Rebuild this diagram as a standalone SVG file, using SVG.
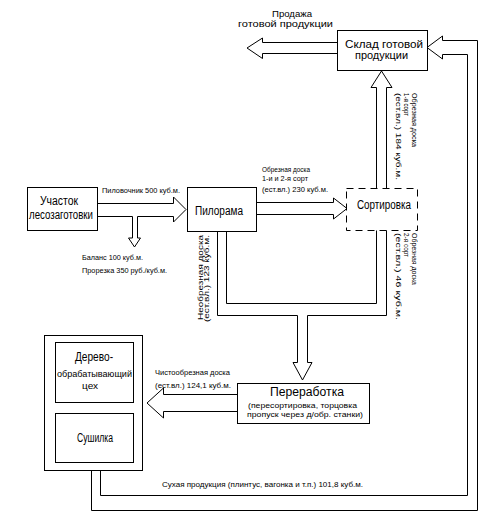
<svg xmlns="http://www.w3.org/2000/svg" width="490" height="522" viewBox="0 0 490 522">
<style>
.box{fill:#fff;stroke:#000;stroke-width:1}
.dash{fill:#fff;stroke:#000;stroke-width:1;stroke-dasharray:7 5}
.arr{fill:none;stroke:#000;stroke-width:1;stroke-linejoin:miter}
text{font-family:"Liberation Sans Narrow","Liberation Sans","DejaVu Sans Condensed",sans-serif;fill:#000}
.m{font-size:12px}
.k{font-size:10px}
.s{font-size:8px}
.t{font-size:9.5px}
.v{font-size:7px}
</style>
<rect width="490" height="522" fill="#fff"/>
<g id="connectors">
<path class="arr" d="M97,203.5 H173.5 V197 L186,209.5 L173.5,222 V216.5 H137.5 V238 H140.5 L134.5,247 L128.5,238 H132.5 V216.5 H97"/>
<path class="arr" d="M256,202.5 H333.5 V198 L347,208.5 L333.5,219 V214.5 H256"/>
<path class="arr" d="M376.5,188 V87.5 H371 L381.5,71 L392,87.5 H386.5 V188"/>
<path class="arr" d="M337,42.5 H262.5 V38 L247,48 L262.5,58.5 V53.5 H337"/>
<path class="arr" d="M91.5,470 V510.5 H477.5 V40.5 H442.5 V36 L427,47.5 L442.5,59 V54.5 H467.5 V495.5 H100.5 V470"/>
<path class="arr" d="M217.5,232 V315.5 H297.5 V362.5 H293 L302.5,380 L312,362.5 H307.5 V315.5 H386.5 V230 M226.5,232 V303.5 H376.5 V230"/>
<path class="arr" d="M238,394.5 H163.5 V388 L147,403 L163.5,418 V411.5 H238"/>
</g>
<g id="labels">
<text class="t" x="272" y="17" textLength="40" lengthAdjust="spacingAndGlyphs">Продажа</text>
<text class="t" x="238" y="27" textLength="95" lengthAdjust="spacingAndGlyphs">готовой продукции</text>
<text class="s" x="102" y="193" textLength="78" lengthAdjust="spacingAndGlyphs">Пиловочник 500 куб.м.</text>
<text class="s" x="82" y="260" textLength="61" lengthAdjust="spacingAndGlyphs">Баланс 100 куб.м.</text>
<text class="s" x="82" y="273" textLength="85" lengthAdjust="spacingAndGlyphs">Прорезка 350 руб./куб.м.</text>
<text class="s" x="262" y="172" textLength="48" lengthAdjust="spacingAndGlyphs">Обрезная доска</text>
<text class="s" x="262" y="181" textLength="46" lengthAdjust="spacingAndGlyphs">1-и и 2-я сорт</text>
<text class="s" x="262" y="192" textLength="66" lengthAdjust="spacingAndGlyphs">(ест.вл.) 230 куб.м.</text>
<text class="s" x="155" y="375" textLength="75" lengthAdjust="spacingAndGlyphs">Чистообрезная доска</text>
<text class="s" x="155" y="388" textLength="76" lengthAdjust="spacingAndGlyphs">(ест.вл.) 124,1 куб.м.</text>
<text class="s" x="162" y="487" textLength="201" lengthAdjust="spacingAndGlyphs">Сухая продукция (плинтус, вагонка и т.п.) 101,8 куб.м.</text>
<g transform="translate(412,93) rotate(90)"><text class="v" x="0" y="0" textLength="54" lengthAdjust="spacingAndGlyphs">Обрезная доска</text></g>
<g transform="translate(403.5,93) rotate(90)"><text class="v" x="0" y="0" textLength="23" lengthAdjust="spacingAndGlyphs">1-я сорт</text></g>
<g transform="translate(396,93) rotate(90)"><text class="v" x="0" y="0" textLength="87" lengthAdjust="spacingAndGlyphs">(ест.вл.) 184 куб.м.</text></g>
<g transform="translate(412,233) rotate(90)"><text class="v" x="0" y="0" textLength="52" lengthAdjust="spacingAndGlyphs">Обрезная доска</text></g>
<g transform="translate(403.5,233) rotate(90)"><text class="v" x="0" y="0" textLength="24" lengthAdjust="spacingAndGlyphs">2-я сорт</text></g>
<g transform="translate(396,233) rotate(90)"><text class="v" x="0" y="0" textLength="87" lengthAdjust="spacingAndGlyphs">(ест.вл.) 46 куб.м.</text></g>
<g transform="translate(203,320) rotate(-90)"><text class="v" x="0" y="0" textLength="85" lengthAdjust="spacingAndGlyphs">Необрезная доска</text></g>
<g transform="translate(209,322) rotate(-90)"><text class="v" x="0" y="0" textLength="87" lengthAdjust="spacingAndGlyphs">(ест.вл.) 123 куб.м.</text></g>
</g>
<g id="uchastok">
<rect class="box" x="27.5" y="187.5" width="70" height="43"/>
<text class="m" x="40" y="205" textLength="38" lengthAdjust="spacingAndGlyphs">Участок</text>
<text class="m" x="29" y="219" textLength="64" lengthAdjust="spacingAndGlyphs">лесозаготовки</text>
</g>
<g id="pilorama">
<rect class="box" x="187.5" y="187.5" width="69" height="44"/>
<text class="m" x="195" y="215" textLength="48" lengthAdjust="spacingAndGlyphs">Пилорама</text>
</g>
<g id="sortirovka">
<rect class="dash" x="346.5" y="188.5" width="71" height="42"/>
<text class="m" x="357" y="209" textLength="54" lengthAdjust="spacingAndGlyphs">Сортировка</text>
</g>
<g id="sklad">
<rect class="box" x="337.5" y="30.5" width="90" height="40"/>
<text class="k" x="345" y="48" textLength="78" lengthAdjust="spacingAndGlyphs">Склад готовой</text>
<text class="k" x="355" y="59" textLength="53" lengthAdjust="spacingAndGlyphs">продукции</text>
</g>
<g id="pererabotka">
<rect class="box" x="237.5" y="383.5" width="132" height="40"/>
<text class="m" x="270" y="396" textLength="74" lengthAdjust="spacingAndGlyphs">Переработка</text>
<text class="s" x="248" y="408" textLength="109" lengthAdjust="spacingAndGlyphs">(пересортировка, торцовка</text>
<text class="s" x="247" y="417" textLength="116" lengthAdjust="spacingAndGlyphs">пропуск через д/обр. станки)</text>
</g>
<g id="ceh">
<rect class="box" x="44.5" y="335.5" width="98" height="135"/>
<g id="derevoobr">
<rect class="box" x="55.5" y="342.5" width="78" height="60"/>
<text class="m" x="75" y="361" textLength="38" lengthAdjust="spacingAndGlyphs">Дерево-</text>
<text class="t" x="57" y="377" textLength="75" lengthAdjust="spacingAndGlyphs">обрабатывающий</text>
<text class="t" x="82" y="389" textLength="16" lengthAdjust="spacingAndGlyphs">цех</text>
</g>
<g id="sushilka">
<rect class="box" x="55.5" y="413.5" width="78" height="49"/>
<text class="m" x="77" y="442" textLength="36" lengthAdjust="spacingAndGlyphs">Сушилка</text>
</g>
</g>
</svg>
